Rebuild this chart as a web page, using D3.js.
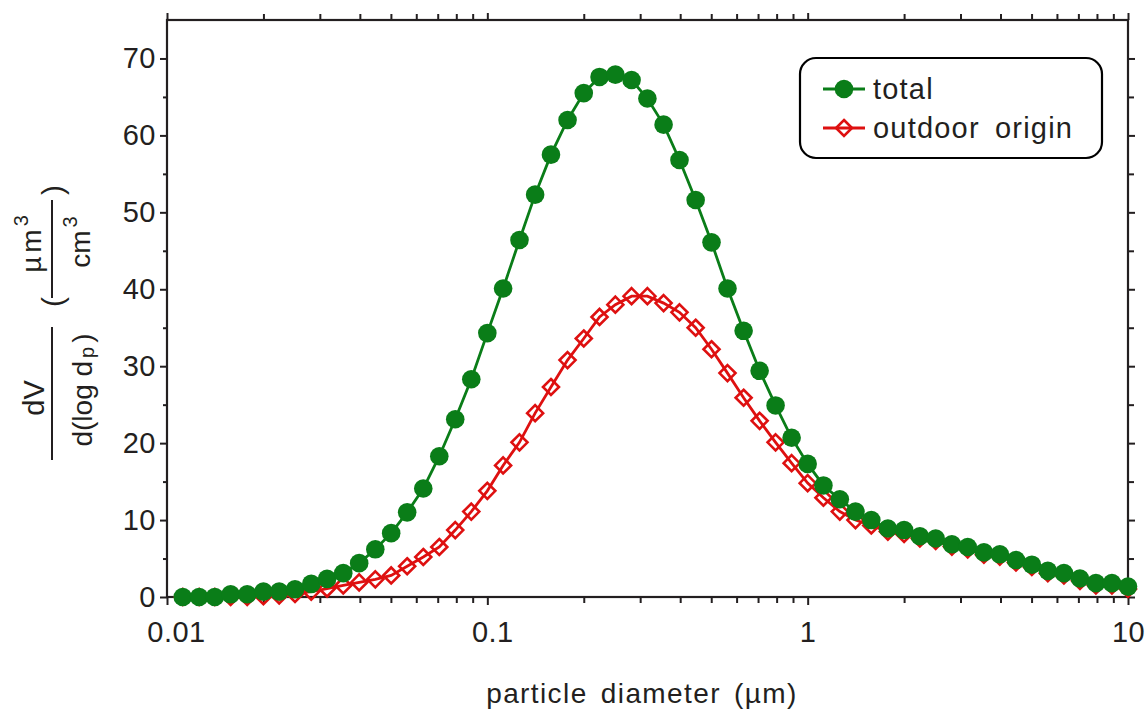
<!DOCTYPE html>
<html><head><meta charset="utf-8">
<script src="https://cdn.jsdelivr.net/npm/d3@7"></script>
<style>
html,body{margin:0;padding:0;background:#fff;}
svg text{font-family:"Liberation Sans",Arial,sans-serif;fill:#231f20;}
</style></head>
<body><svg id="c" width="1148" height="711"></svg>
<script>
const diameters = [0.0112,0.0126,0.0141,0.0158,0.0178,0.0200,0.0224,0.0251,0.0282,0.0316,
  0.0355,0.0398,0.0447,0.0501,0.0562,0.0631,0.0708,0.0794,0.0891,0.100,
  0.112,0.126,0.141,0.158,0.178,0.200,0.224,0.251,0.282,0.316,
  0.355,0.398,0.447,0.501,0.562,0.631,0.708,0.794,0.891,1.00,
  1.12,1.26,1.41,1.58,1.78,2.00,2.24,2.51,2.82,3.16,
  3.55,3.98,4.47,5.01,5.62,6.31,7.08,7.94,8.91,10.0];
const totalValues = [0.0,0.0,0.0,0.35,0.35,0.7,0.7,1.0,1.7,2.35,
  3.1,4.4,6.2,8.3,11.0,14.1,18.3,23.1,28.3,34.3,
  40.1,46.4,52.3,57.5,62.0,65.5,67.6,67.9,67.2,64.8,
  61.4,56.8,51.6,46.1,40.1,34.6,29.4,24.9,20.7,17.3,
  14.5,12.7,11.1,10.0,8.9,8.7,7.9,7.6,6.85,6.5,
  5.8,5.55,4.8,4.2,3.4,3.1,2.4,1.8,1.8,1.35];
const outdoorValues = [0.0,0.0,0.0,0.0,0.0,0.1,0.2,0.4,0.7,1.1,
  1.5,1.9,2.3,2.8,4.0,5.2,6.5,8.7,11.1,13.8,
  17.1,20.1,23.9,27.3,30.8,33.6,36.4,38.0,39.1,39.1,
  38.2,37.0,35.0,32.2,29.1,25.9,22.9,20.1,17.4,14.8,
  12.9,11.1,10.0,9.3,8.5,8.2,7.6,7.3,6.55,6.2,
  5.5,5.25,4.5,3.9,3.1,2.8,2.1,1.5,1.5,1.05];
const seriesNames = ["total","outdoor origin"];
const xMajorTicks = [0.01,0.1,1,10];
const xTickLabels = ["0.01","0.1","1","10"];
const xMinorTicks = [0.02,0.03,0.04,0.05,0.06,0.07,0.08,0.09,0.2,0.3,0.4,0.5,0.6,0.7,0.8,0.9,2,3,4,5,6,7,8,9];
const yMajorTicks = [0,10,20,30,40,50,60,70];
const yMinorTicks = [5,15,25,35,45,55,65];
const xTitle = "particle diameter (µm)";

const ink = "#231f20", green = "#0a7d18", red = "#de1010";
const svg = d3.select("#c");
const L = 167, R = 1128, T = 20, B = 597;
const x = d3.scaleLog().domain([0.01,10]).range([L,R]);
const y = d3.scaleLinear().domain([0,75]).range([B,T]);

function styleAxis(g){
  g.select(".domain").remove();
  g.selectAll("line").attr("stroke",ink).attr("stroke-width",2);
  g.selectAll("text").attr("font-size",29).attr("fill",ink).style("letter-spacing","0.5px");
}
// bottom
svg.append("g").attr("transform",`translate(0,${B})`)
  .call(d3.axisBottom(x).tickValues(xMinorTicks).tickSize(6).tickFormat("")).call(styleAxis);
const bx = svg.append("g").attr("transform",`translate(0,${B})`)
  .call(d3.axisBottom(x).tickValues(xMajorTicks).tickSize(8).tickPadding(16)
    .tickFormat((d,i)=>xTickLabels[i])).call(styleAxis);
bx.selectAll(".tick text").attr("dx",d=>d<0.05?9:(d<0.5?5:0));
// top
svg.append("g").attr("transform",`translate(0,${T})`)
  .call(d3.axisTop(x).tickValues(xMinorTicks).tickSize(6).tickFormat("")).call(styleAxis);
svg.append("g").attr("transform",`translate(0,${T})`)
  .call(d3.axisTop(x).tickValues(xMajorTicks).tickSize(7).tickFormat("")).call(styleAxis);
// left
svg.append("g").attr("transform",`translate(${L},0)`)
  .call(d3.axisLeft(y).tickValues(yMinorTicks).tickSize(4).tickFormat("")).call(styleAxis);
svg.append("g").attr("transform",`translate(${L},0)`)
  .call(d3.axisLeft(y).tickValues(yMajorTicks).tickSize(7).tickPadding(4).tickFormat(d3.format("d"))).call(styleAxis);
// right
svg.append("g").attr("transform",`translate(${R},0)`)
  .call(d3.axisRight(y).tickValues(yMinorTicks).tickSize(6).tickFormat("")).call(styleAxis);
svg.append("g").attr("transform",`translate(${R},0)`)
  .call(d3.axisRight(y).tickValues(yMajorTicks).tickSize(7).tickFormat("")).call(styleAxis);
// frame
svg.append("rect").attr("x",L).attr("y",T).attr("width",R-L).attr("height",B-T)
  .attr("fill","none").attr("stroke",ink).attr("stroke-width",2.2);

// series
const line = d3.line().x(d=>x(d[0])).y(d=>y(d[1]));
const dataOut = diameters.map((d,i)=>[d,outdoorValues[i]]);
const dataTot = diameters.map((d,i)=>[d,totalValues[i]]);
const diamond = "M0,-8L8,0L0,8L-8,0Z";
svg.append("path").datum(dataOut).attr("d",line).attr("fill","none").attr("stroke",red).attr("stroke-width",2.8);
svg.append("g").selectAll("path").data(dataOut).join("path")
  .attr("transform",d=>`translate(${x(d[0])},${y(d[1])})`).attr("d",diamond)
  .attr("fill","none").attr("stroke",red).attr("stroke-width",2.6);
svg.append("path").datum(dataTot).attr("d",line).attr("fill","none").attr("stroke",green).attr("stroke-width",2.8);
svg.append("g").selectAll("circle").data(dataTot).join("circle")
  .attr("cx",d=>x(d[0])).attr("cy",d=>y(d[1])).attr("r",9.3).attr("fill",green);

// x title
svg.append("text").attr("x",642).attr("y",703).attr("text-anchor","middle")
  .attr("font-size",28).style("letter-spacing","1.4px").style("word-spacing","4px").text(xTitle);

// y title (rotated)
const yt = svg.append("g");
function rtext(cx, cy, size){
  return yt.append("text").attr("transform",`translate(${cx},${cy}) rotate(-90)`)
    .attr("text-anchor","middle").attr("dominant-baseline","central").attr("font-size",size);
}
rtext(34,398,29).text("dV");
yt.append("line").attr("x1",52).attr("x2",52).attr("y1",327).attr("y2",460).attr("stroke",ink).attr("stroke-width",2);
const t2 = rtext(82,390,28);
t2.append("tspan").text("d(log d");
t2.append("tspan").attr("font-size",20).attr("dy",5).attr("dx",3).text("p");
t2.append("tspan").attr("dy",-5).attr("dx",4).text(")");
rtext(52,302,30).text("(");
yt.append("line").attr("x1",52).attr("x2",52).attr("y1",200).attr("y2",298).attr("stroke",ink).attr("stroke-width",2);
const t3 = rtext(31,244,28);
t3.append("tspan").text("µ");
t3.append("tspan").attr("dx",4).text("m");
t3.append("tspan").attr("font-size",20).attr("dy",-10).attr("dx",3).text("3");
const t4 = rtext(80,242,28);
t4.append("tspan").text("cm");
t4.append("tspan").attr("font-size",20).attr("dy",-10).attr("dx",3).text("3");
rtext(52,190,30).text(")");

// legend
const lg = svg.append("g");
lg.append("rect").attr("x",800).attr("y",58).attr("width",302).attr("height",100).attr("rx",16)
  .attr("fill","#fff").attr("stroke","#000").attr("stroke-width",2.2);
const rows = [{name:seriesNames[0],color:green,y:89,mk:"circle"},{name:seriesNames[1],color:red,y:128,mk:"diamond"}];
rows.forEach(r=>{
  lg.append("line").attr("x1",823).attr("x2",865).attr("y1",r.y).attr("y2",r.y).attr("stroke",r.color).attr("stroke-width",2.8);
  if(r.mk==="circle") lg.append("circle").attr("cx",844).attr("cy",r.y).attr("r",9.3).attr("fill",r.color);
  else lg.append("path").attr("transform",`translate(844,${r.y})`).attr("d",diamond).attr("fill","none").attr("stroke",r.color).attr("stroke-width",2.6);
  lg.append("text").attr("x",873).attr("y",r.y).attr("dominant-baseline","central").attr("font-size",29)
    .style("letter-spacing","1.2px").style("word-spacing","6px").text(r.name);
});
</script></body></html>
